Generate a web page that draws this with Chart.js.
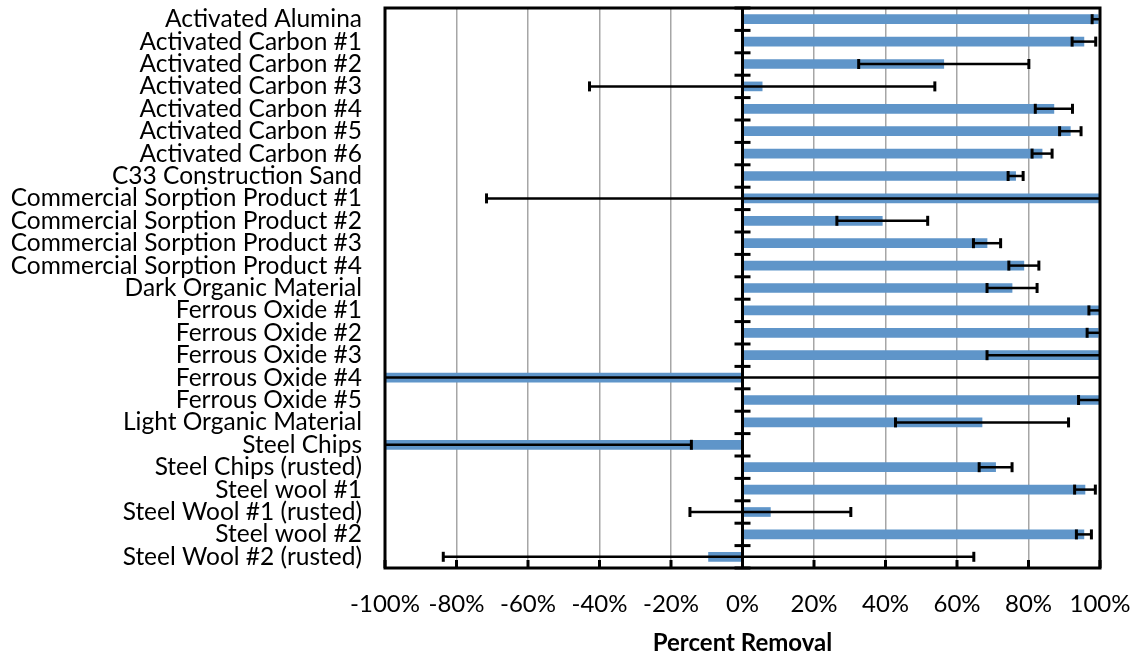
<!DOCTYPE html>
<html>
<head>
<meta charset="utf-8">
<script src="https://cdn.jsdelivr.net/npm/chart.js@4"></script>
<style>
  body { margin: 0; background: #fff; }
  #wrap { width: 1142px; height: 658px; }
</style>
</head>
<body>
<div id="wrap"><canvas id="removalChart" width="1142" height="658"></canvas></div>
<script>
// Chart data
const categories = [
  "Activated Alumina", "Activated Carbon #1", "Activated Carbon #2", "Activated Carbon #3",
  "Activated Carbon #4", "Activated Carbon #5", "Activated Carbon #6", "C33 Construction Sand",
  "Commercial Sorption Product #1", "Commercial Sorption Product #2", "Commercial Sorption Product #3",
  "Commercial Sorption Product #4", "Dark Organic Material", "Ferrous Oxide #1", "Ferrous Oxide #2",
  "Ferrous Oxide #3", "Ferrous Oxide #4", "Ferrous Oxide #5", "Light Organic Material", "Steel Chips",
  "Steel Chips (rusted)", "Steel wool #1", "Steel Wool #1 (rusted)", "Steel wool #2", "Steel Wool #2 (rusted)"
];
const removal = [99.5, 95.5, 56.3, 5.5, 87.1, 91.7, 83.8, 76.4, 100, 39.1, 68.4, 78.7, 75.4,
  99.7, 99.5, 100, -100, 100, 67, -100, 70.8, 95.8, 7.8, 95.5, -9.5];
const errors = [1.7, 3.3, 23.8, 48.3, 5.2, 3.0, 2.8, 2.1, 171.6, 12.7, 3.8, 4.2, 7.0,
  2.8, 3.1, 31.6, 210, 6, 24.2, 85.7, 4.6, 2.9, 22.5, 2.1, 74.2];
const xTicks = [-100, -80, -60, -40, -20, 0, 20, 40, 60, 80, 100];

const fontFamily = "Lato, 'Liberation Sans', sans-serif";

// Draws error bars, the zero axis with cross ticks and the plot frame
const decorPlugin = {
  id: "decor",
  afterDatasetsDraw(chart) {
    const ctx = chart.ctx;
    const area = chart.chartArea;
    const x = chart.scales.x;
    const y = chart.scales.y;
    const zero = x.getPixelForValue(0);

    // zero axis line
    ctx.save();
    ctx.strokeStyle = "#000";
    ctx.lineWidth = 3;
    ctx.beginPath();
    ctx.moveTo(zero, area.top);
    ctx.lineTo(zero, area.bottom);
    ctx.stroke();

    // cross ticks between categories
    const band = (area.bottom - area.top) / categories.length;
    for (let i = 0; i <= categories.length; i++) {
      const ty = area.top + band * i;
      ctx.beginPath();
      ctx.moveTo(zero - 8, ty);
      ctx.lineTo(zero + 8, ty);
      ctx.stroke();
    }

    // error bars, clipped to the plot area
    ctx.beginPath();
    ctx.rect(area.left, area.top, area.right - area.left, area.bottom - area.top);
    ctx.clip();
    for (let i = 0; i < removal.length; i++) {
      const cy = y.getPixelForValue(i);
      const x1 = x.getPixelForValue(removal[i] - errors[i]);
      const x2 = x.getPixelForValue(removal[i] + errors[i]);
      ctx.lineWidth = 2.5;
      ctx.beginPath();
      ctx.moveTo(x1, cy);
      ctx.lineTo(x2, cy);
      ctx.stroke();
      ctx.lineWidth = 3;
      for (const cx of [x1, x2]) {
        ctx.beginPath();
        ctx.moveTo(cx, cy - 5);
        ctx.lineTo(cx, cy + 5);
        ctx.stroke();
      }
    }
    ctx.restore();

    // frame and bottom tick marks
    ctx.save();
    ctx.strokeStyle = "#000";
    ctx.lineWidth = 3;
    ctx.strokeRect(area.left, area.top, area.right - area.left, area.bottom - area.top);
    for (const v of xTicks) {
      const tx = x.getPixelForValue(v);
      ctx.beginPath();
      ctx.moveTo(tx, area.bottom);
      ctx.lineTo(tx, area.bottom - 8);
      ctx.stroke();
    }
    ctx.restore();
  }
};

new Chart(document.getElementById("removalChart"), {
  type: "bar",
  data: {
    labels: categories,
    datasets: [{
      data: removal,
      backgroundColor: "#5f95c9",
      borderWidth: 0,
      barThickness: 9
    }]
  },
  options: {
    indexAxis: "y",
    responsive: false,
    animation: false,
    layout: { padding: { top: 8, right: 42, left: 0, bottom: 0 } },
    plugins: {
      legend: { display: false },
      tooltip: { enabled: false }
    },
    scales: {
      x: {
        min: -100,
        max: 100,
        afterBuildTicks(scale) {
          scale.ticks = xTicks.map(v => ({ value: v }));
        },
        afterFit(scale) {
          scale.height = 90;
          // keep the edge labels from shrinking the plot
          scale.paddingLeft = 0;
          scale.paddingRight = 0;
        },
        grid: { color: "#a6a6a6", lineWidth: 1.5, drawTicks: false },
        border: { display: false },
        ticks: {
          padding: 22,
          autoSkip: false,
          maxRotation: 0,
          minRotation: 0,
          color: "#000",
          font: { family: fontFamily, size: 24 },
          callback: v => v + "%"
        },
        title: {
          display: true,
          text: "Percent Removal",
          color: "#000",
          font: { family: fontFamily, size: 24, weight: "bold" },
          padding: { top: 0, bottom: 0 }
        }
      },
      y: {
        afterFit(scale) {
          scale.width = 385;
          scale.paddingTop = 0;
          scale.paddingBottom = 0;
        },
        grid: { display: false, drawTicks: false },
        border: { display: false },
        ticks: {
          padding: 23,
          autoSkip: false,
          color: "#000",
          font: { family: fontFamily, size: 24.5 }
        }
      }
    }
  },
  plugins: [decorPlugin]
});
</script>
</body>
</html>
